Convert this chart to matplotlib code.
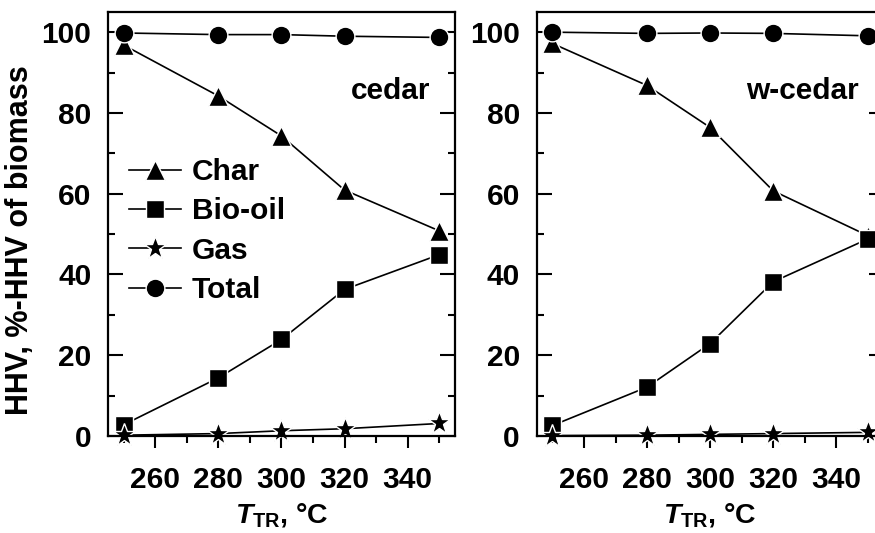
import matplotlib
matplotlib.use('Agg')
import matplotlib.pyplot as plt
from matplotlib.ticker import MultipleLocator

plt.rcParams['font.family'] = 'Liberation Sans'
plt.rcParams['font.weight'] = 'bold'
plt.rcParams['mathtext.fontset'] = 'custom'
plt.rcParams['mathtext.it'] = 'Liberation Sans:italic:bold'
plt.rcParams['mathtext.bf'] = 'Liberation Sans:bold'
plt.rcParams['mathtext.rm'] = 'Liberation Sans:bold'

FS = 21.5

temp = [250, 280, 300, 320, 350]

# cedar
cedar_char = [96.8, 84.2, 74.3, 60.9, 50.8]
cedar_oil = [2.8, 14.4, 23.9, 36.3, 44.9]
cedar_gas = [0.2, 0.6, 1.3, 1.8, 3.1]
cedar_total = [99.8, 99.4, 99.4, 99.0, 98.7]

# w-cedar
wcedar_char = [97.2, 86.8, 76.4, 60.7, 49.6]
wcedar_oil = [2.6, 12.1, 22.9, 38.2, 48.8]
wcedar_gas = [0.1, 0.2, 0.4, 0.6, 0.9]
wcedar_total = [100.0, 99.7, 99.8, 99.7, 99.1]

fig = plt.figure(figsize=(8.75, 5.33), dpi=100)
ax1 = fig.add_axes([0.1234, 0.182, 0.3966, 0.7955])
ax2 = fig.add_axes([0.6133, 0.182, 0.3966, 0.7955])

styles = [('Char', '^', 15), ('Bio-oil', 's', 12.5), ('Gas', '*', 17), ('Total', 'o', 13.5)]

for ax, data, name in [(ax1, [cedar_char, cedar_oil, cedar_gas, cedar_total], 'cedar'),
                       (ax2, [wcedar_char, wcedar_oil, wcedar_gas, wcedar_total], 'w-cedar')]:
    for (label, m, ms), vals in zip(styles, data):
        ax.plot(temp, vals, color='black', lw=1.2, marker=m, ms=ms,
                mfc='black', mec='white', mew=1.0, label=label, clip_on=False)
    ax.set_xlim(245, 355)
    ax.set_ylim(0, 105)
    ax.xaxis.set_minor_locator(MultipleLocator(10))
    ax.yaxis.set_major_locator(MultipleLocator(20))
    ax.yaxis.set_minor_locator(MultipleLocator(10))
    ax.set_xticks([260, 280, 300, 320, 340])
    ax.tick_params(axis='y', which='both', direction='in', left=True, right=True, labelsize=FS, width=1.5, pad=12)
    ax.tick_params(axis='y', which='major', length=10.5)
    ax.tick_params(axis='y', which='minor', length=5)
    ax.tick_params(axis='x', which='both', direction='out', top=False, labelsize=FS, width=1.5, pad=13)
    ax.tick_params(axis='x', which='major', length=8.5)
    ax.tick_params(axis='x', which='minor', length=5)
    for sp in ax.spines.values():
        sp.set_linewidth(1.6)
    ax.set_xlabel(r'$\mathit{T}_{\mathbf{TR}}$, °C', fontsize=FS - 1, fontweight='bold', labelpad=5)
    ax.text(0.928, 0.813, name, transform=ax.transAxes, ha='right', va='center',
            fontsize=FS, fontweight='bold')

ax1.set_ylabel('HHV, %-HHV of biomass', fontsize=22, fontweight='bold')
ax1.yaxis.set_label_coords(-0.21, 0.462)

ax1.legend(loc='upper left', bbox_to_anchor=(0.0, 0.705), frameon=False, fontsize=FS,
           handlelength=1.75, handletextpad=0.35, labelspacing=0.38, numpoints=1,
           borderaxespad=0.3)

fig.savefig('out.png', dpi=100)
